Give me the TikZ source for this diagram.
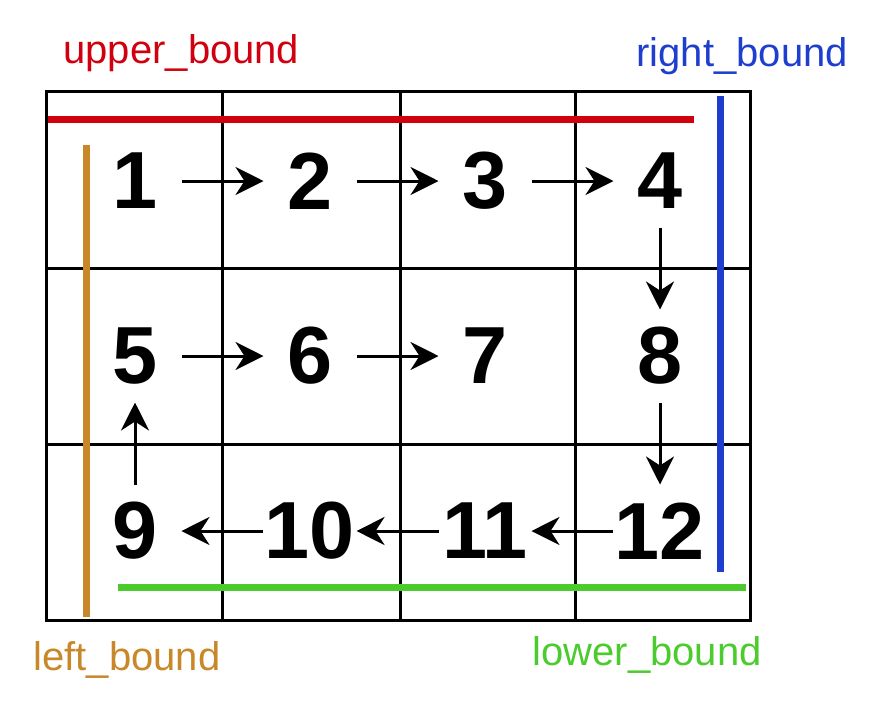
\documentclass[tikz,border=0pt]{standalone}
\usepackage{fontspec}
\setmainfont{Liberation Sans}
\usetikzlibrary{arrows.meta}

\definecolor{upperred}{RGB}{208,0,15}
\definecolor{rightblue}{RGB}{30,62,207}
\definecolor{leftorange}{RGB}{200,136,42}
\definecolor{lowergreen}{RGB}{76,203,47}

\begin{document}
\begin{tikzpicture}[x=1pt,y=-1pt,>={Stealth[length=28pt,width=28pt,inset=9pt]},
      node distance=175pt,line width=3pt,
      num/.style={minimum size=90pt,inner sep=0pt,font=\fontsize{81}{81}\selectfont\bfseries},
      boundtext/.style={inner sep=0pt,anchor=base west,font=\fontsize{40}{40}\selectfont},
      boundline/.style={line width=7pt}]
      \useasboundingbox (0,0) rectangle (880,702);

      % the 3x4 grid
      \draw (46,91) rectangle (750,620);
      \draw (222,91) -- (222,620) (400,91) -- (400,620) (575,91) -- (575,620);
      \draw (46,268) -- (750,268) (46,444) -- (750,444);

      \node[num] (n1) at (135,181) {1};
      \node[num] (n2) [right of=n1] {2};
      \node[num] (n3) [right of=n2] {3};
      \node[num] (n4) [right of=n3] {4};

      \node[num] (n5) [below of=n1] {5};
      \node[num] (n6) [right of=n5] {6};
      \node[num] (n7) [right of=n6] {7};
      \node[num] (n8) [right of=n7] {8};

      \node[num] (n9) [below of=n5] {9};
      \node[num] (n10) [right of=n9] {10};
      \node[num] (n11) [right of=n10] {11};
      \node[num] (n12) [right of=n11] {12};

      \path[->]
      (n1) edge (n2)
      (n2) edge (n3)
      (n3) edge (n4)
      (n4) edge (n8)
      (n8) edge (n12)

      (n12) edge (n11)
      (n11) edge (n10)
      (n10) edge (n9)
      (n9) edge (n5)

      (n5) edge (n6)
      (n6) edge (n7)
      ;

      % bounds
      \draw[boundline,upperred] (48,119) -- (694,119);
      \draw[boundline,rightblue] (720,96) -- (720,572);
      \draw[boundline,leftorange] (86,145) -- (86,617);
      \draw[boundline,lowergreen] (118,587) -- (746,587);

      \node[boundtext,text=upperred] (upper) at (62,63) {upper\_bound};
      \node[boundtext,text=rightblue] (right) at (635,66) {right\_bound};
      \node[boundtext,text=leftorange] (left) at (32,670) {left\_bound};
      \node[boundtext,text=lowergreen] (lower) at (531,665) {lower\_bound};
    \end{tikzpicture}
\end{document}
